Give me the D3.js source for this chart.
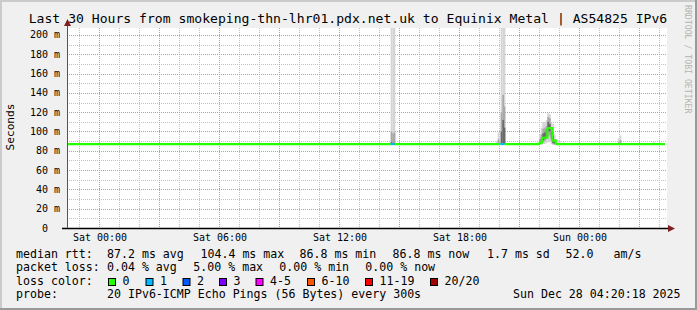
<!DOCTYPE html>
<html>
<head>
<meta charset="utf-8">
<style>
    body { margin: 0; background: #f0f0f0; }
    svg { display: block; font-family: "DejaVu Sans Mono", monospace; }
    .minor { stroke: #c2c2c2; stroke-dasharray: 1,1; }
    .major { stroke: #e38c8c; stroke-dasharray: 1,1; }
    .tick { font-size: 10px; fill: #000; }
    .legend { font-size: 11.6px; fill: #000; white-space: pre; }
</style>
</head>
<body>
<svg width="697" height="310"></svg>
<script src="https://d3js.org/d3.v7.min.js"></script>
<script>
    var vWidth = 697, vHeight = 310;
    var plotLeft = 67, plotRight = 667, plotTop = 28, plotBottom = 228;
    var parse = d3.timeParse("%Y-%m-%d %H:%M");

    // time window of the graph (last 30 hours)
    var startTime = "2025-12-26 22:24";
    var endTime = "2025-12-28 04:24";
    var yMax = 207.25;
    var yTicks = [0, 20, 40, 60, 80, 100, 120, 140, 160, 180, 200];

    // median rtt (ms), step series, with lost pings per step
    var medianTimes = ["2025-12-26 22:20", "2025-12-27 14:35", "2025-12-27 14:47", "2025-12-27 20:04",
        "2025-12-27 20:17", "2025-12-27 22:00", "2025-12-27 22:09", "2025-12-27 22:25",
        "2025-12-27 22:40", "2025-12-27 22:50", "2025-12-28 04:18"];
    var medianValues = [87.0, 87.0, 87.0, 87.0, 87.0, 88.5, 93.5, 103.6, 90.5, 87.0, 87.0];
    var medianLoss = [0, 1, 0, 1, 0, 0, 0, 0, 0, 0, 0];

    // smoke (ping spread, ms) for the samples that stand out of the median line
    var smokeTimes = ["2025-12-27 14:35", "2025-12-27 14:40", "2025-12-27 14:44", "2025-12-27 19:51",
        "2025-12-27 19:56", "2025-12-27 20:05", "2025-12-27 20:10", "2025-12-27 20:14",
        "2025-12-27 22:00", "2025-12-27 22:05",
        "2025-12-27 22:10", "2025-12-27 22:15", "2025-12-27 22:20", "2025-12-27 22:25",
        "2025-12-27 22:30", "2025-12-27 22:35", "2025-12-27 22:40", "2025-12-27 22:45",
        "2025-12-27 22:50", "2025-12-27 22:55", "2025-12-27 23:00", "2025-12-27 23:12",
        "2025-12-28 01:57", "2025-12-28 02:02", "2025-12-28 03:42"];
    var smokeOuter = [[86, 212], [86, 212], [86, 212], [86, 90], [86, 99], [86, 212], [86, 212], [86, 212],
        [86, 97], [86, 104],
        [87, 110], [87, 110], [88, 112], [89, 119], [89, 118], [87, 109], [86, 108], [86, 97],
        [86, 92], [86, 91], [86, 90], [86, 89], [86, 93], [86, 96], [86, 89]];
    var smokeMid = [[86, 100], [86, 98], [86, 99], null, [86, 92], [87, 120], [87, 138], [87, 126],
        [87, 92], [87, 97],
        [89, 103], [90, 104], [92, 106], [95, 115], [96, 114], [90, 104], [87, 100], [86.5, 92],
        [86, 89], null, null, null, [86, 89], [86, 91], null];
    var smokeInner = [[86, 89], [86, 88], [86, 88], null, null, [87, 100], [88, 112], [87, 104],
        [87.5, 89], [88, 93],
        [91, 98], [92, 99], [95, 102], [100, 110], [100, 108], [93, 100], [88, 95], [87, 90],
        null, null, null, null, null, null, null];

    // legend
    var lossLabels = ["0", "1", "2", "3", "4-5", "6-10", "11-19", "20/20"];
    var lossColors = ["#26ff00", "#00b8ff", "#0059ff", "#7e00ff", "#ff00ff", "#ff5500", "#ff0000", "#a10000"];
    var rttStats = ["87.2 ms avg", "104.4 ms max", "86.8 ms min", "86.8 ms now", "1.7 ms sd", "52.0", "am/s"];
    var lossStats = ["0.04 % avg", "5.00 % max", "0.00 % min", "0.00 % now"];
    var title = "Last 30 Hours from smokeping-thn-lhr01.pdx.net.uk to Equinix Metal | AS54825 IPv6";
    var probeText = "20 IPv6-ICMP Echo Pings (56 Bytes) every 300s";
    var stamp = "Sun Dec 28 04:20:18 2025";

    // layout of legend pieces
    var rttX = [107, 200.5, 299.5, 392.5, 487, 565.5, 613.5];
    var lossX = [107, 193.3, 279.3, 365.3];
    var boxX = [108, 145.5, 182.5, 219, 255.5, 307, 365, 430];

    var svg = d3.select("svg");
    var x = d3.scaleTime().domain([parse(startTime), parse(endTime)]).range([plotLeft, plotRight]);
    var y = d3.scaleLinear().domain([0, yMax]).range([plotBottom, plotTop]);
    var px = function (v) { return Math.round(v) + 0.5; };

    // frame
    svg.append("rect").attr("width", vWidth).attr("height", vHeight).attr("fill", "#f0f0f0");
    svg.append("rect").attr("width", vWidth).attr("height", 2).attr("fill", "#cbcbcb");
    svg.append("rect").attr("width", 2).attr("height", vHeight).attr("fill", "#cbcbcb");
    svg.append("rect").attr("y", vHeight - 2).attr("width", vWidth).attr("height", 2).attr("fill", "#999");
    svg.append("rect").attr("x", vWidth - 2).attr("width", 2).attr("height", vHeight).attr("fill", "#999");
    svg.append("rect").attr("x", plotLeft).attr("y", plotTop)
        .attr("width", plotRight - plotLeft).attr("height", plotBottom - plotTop).attr("fill", "#fff");

    svg.append("defs").append("clipPath").attr("id", "clip").append("rect")
        .attr("x", plotLeft).attr("y", plotTop).attr("width", plotRight - plotLeft).attr("height", plotBottom - plotTop);

    // grid
    var g = svg.append("g");
    var hours = x.ticks(d3.timeHour.every(1));
    var major = x.ticks(d3.timeHour.every(3));
    var majorSet = major.map(function (d) { return +d; });
    g.selectAll(".vmin").data(hours.filter(function (d) { return majorSet.indexOf(+d) < 0; })).enter()
        .append("line").attr("class", "minor")
        .attr("x1", function (d) { return px(x(d)); }).attr("x2", function (d) { return px(x(d)); })
        .attr("y1", plotTop).attr("y2", plotBottom);
    var yMinor = d3.range(10, 201, 20);
    g.selectAll(".hmin").data(yMinor).enter().append("line").attr("class", "minor")
        .attr("x1", plotLeft).attr("x2", plotRight)
        .attr("y1", function (d) { return px(y(d)); }).attr("y2", function (d) { return px(y(d)); });
    g.selectAll(".vmaj").data(major).enter().append("line").attr("class", "major")
        .attr("x1", function (d) { return px(x(d)); }).attr("x2", function (d) { return px(x(d)); })
        .attr("y1", plotTop).attr("y2", plotBottom);
    g.selectAll(".hmaj").data(yTicks.slice(1)).enter().append("line").attr("class", "major")
        .attr("x1", plotLeft).attr("x2", plotRight)
        .attr("y1", function (d) { return px(y(d)); }).attr("y2", function (d) { return px(y(d)); });

    // smoke
    var plot = svg.append("g").attr("clip-path", "url(#clip)");
    var step = 300 * 1000;
    [[smokeOuter, "#d4d4d4"], [smokeMid, "#a9a9a9"], [smokeInner, "#6a6a6a"]].forEach(function (band) {
        var rows = smokeTimes.map(function (t, i) { return {t: parse(t), r: band[0][i]}; })
            .filter(function (d) { return d.r; });
        plot.selectAll(null).data(rows).enter().append("rect")
            .attr("x", function (d) { return x(d.t); })
            .attr("width", function (d) { return x(new Date(+d.t + step)) - x(d.t); })
            .attr("y", function (d) { return y(d.r[1]); })
            .attr("height", function (d) { return y(d.r[0]) - y(d.r[1]); })
            .attr("fill", band[1]);
    });

    // median line, coloured by loss
    var line = d3.line().curve(d3.curveStepAfter)
        .x(function (d) { return x(d[0]); }).y(function (d) { return y(d[1]); });
    var segs = d3.range(medianTimes.length - 1).map(function (i) {
        return {c: lossColors[medianLoss[i]],
            p: [[parse(medianTimes[i]), medianValues[i]], [parse(medianTimes[i + 1]), medianValues[i + 1]]]};
    });
    plot.selectAll(".med").data(segs).enter().append("path")
        .attr("d", function (d) { return line(d.p); })
        .attr("fill", "none").attr("stroke", function (d) { return d.c; }).attr("stroke-width", 2.2);

    // axes
    svg.append("line").attr("x1", 62).attr("x2", 670).attr("y1", plotBottom + 0.5).attr("y2", plotBottom + 0.5)
        .attr("stroke", "#000").attr("stroke-width", 1.4);
    svg.append("line").attr("x1", plotLeft + 0.5).attr("x2", plotLeft + 0.5)
        .attr("y1", plotBottom).attr("y2", 24).attr("stroke", "#555");
    svg.append("path")
        .attr("d", "M" + (plotLeft + 0.5) + ",19 L" + (plotLeft + 4) + ",26 L" + (plotLeft - 3) + ",26 Z")
        .attr("fill", "#7f1f1f");
    svg.append("path").attr("d", "M675,228.5 L668,225 L668,232 Z").attr("fill", "#7f1f1f");

    // tick labels
    svg.selectAll(".yl").data(yTicks).enter().append("text").attr("class", "tick")
        .attr("text-anchor", "end")
        .attr("x", function (d) { return d === 0 ? 48 : 60; })
        .attr("y", function (d) { return y(d) + 3.5; })
        .text(function (d) { return d === 0 ? "0" : d + " m"; });
    var fmt = d3.timeFormat("%a %H:%M");
    svg.selectAll(".xl").data(x.ticks(d3.timeHour.every(6))).enter().append("text").attr("class", "tick")
        .attr("text-anchor", "middle")
        .attr("x", function (d) { return x(d) + 1; }).attr("y", 240.5)
        .text(function (d) { return fmt(d); });

    // titles
    svg.append("text").attr("x", 348).attr("y", 23).attr("text-anchor", "middle")
        .style("font-size", "13.1px").text(title);
    svg.append("text").attr("transform", "translate(14,127) rotate(-90)").attr("text-anchor", "middle")
        .style("font-size", "11.2px").text("Seconds");
    svg.append("text").attr("transform", "translate(684.5,5) rotate(90)")
        .style("font-size", "8.2px").attr("fill", "#b4b4b4").text("RRDTOOL / TOBI OETIKER");

    // legend
    var rows = [257.5, 271, 284.5, 298];
    svg.append("text").attr("class", "legend").attr("x", 16).attr("y", rows[0]).text("median rtt:");
    svg.selectAll(".rs").data(rttStats).enter().append("text").attr("class", "legend")
        .attr("x", function (d, i) { return rttX[i]; }).attr("y", rows[0]).text(function (d) { return d; });
    svg.append("text").attr("class", "legend").attr("x", 16).attr("y", rows[1]).text("packet loss:");
    svg.selectAll(".ls").data(lossStats).enter().append("text").attr("class", "legend")
        .attr("x", function (d, i) { return lossX[i]; }).attr("y", rows[1]).text(function (d) { return d; });
    svg.append("text").attr("class", "legend").attr("x", 16).attr("y", rows[2]).text("loss color:");
    svg.selectAll(".lb").data(lossColors).enter().append("rect")
        .attr("x", function (d, i) { return boxX[i] + 0.5; }).attr("y", 278.5)
        .attr("width", 7).attr("height", 7)
        .attr("fill", function (d) { return d; }).attr("stroke", "#000");
    svg.selectAll(".lt").data(lossLabels).enter().append("text").attr("class", "legend")
        .attr("x", function (d, i) { return boxX[i] + 14.5; }).attr("y", rows[2]).text(function (d) { return d; });
    svg.append("text").attr("class", "legend").attr("x", 16).attr("y", rows[3]).text("probe:");
    svg.append("text").attr("class", "legend").attr("x", 107).attr("y", rows[3]).text(probeText);
    svg.append("text").attr("class", "legend").attr("x", 513).attr("y", rows[3]).text(stamp);
</script>
</body>
</html>
